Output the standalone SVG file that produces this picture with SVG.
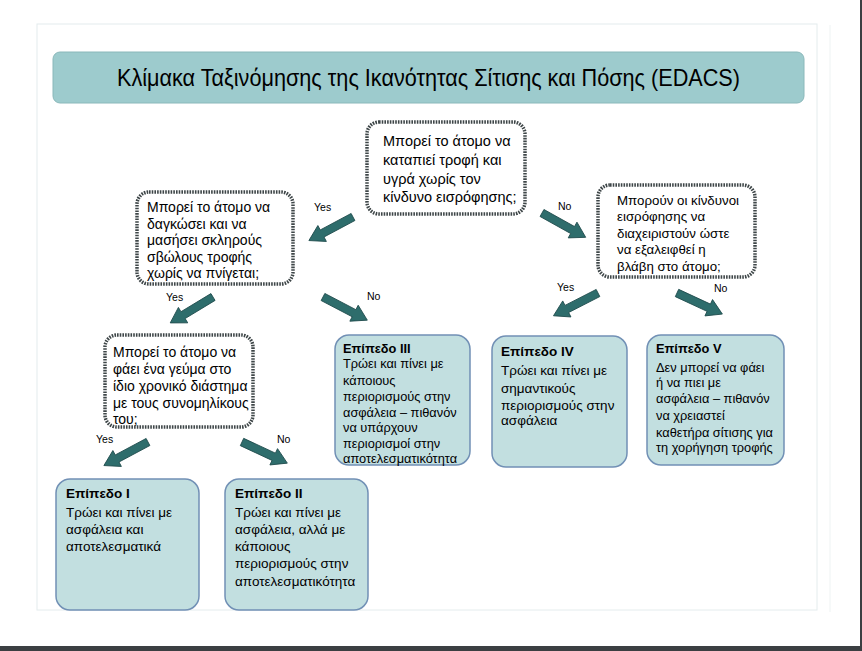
<svg xmlns="http://www.w3.org/2000/svg" xmlns:xlink="http://www.w3.org/1999/xlink" width="862" height="651" viewBox="0 0 862 651">
<defs>
<style>
.q{fill:#fff;stroke:#3e4648;stroke-width:3.5;stroke-dasharray:1.6 1.1}
.lvl{fill:#c2dfe0;stroke:#7190b5;stroke-width:1.5}
.t{font-family:"Liberation Sans",Arial,sans-serif;fill:#000}
.lbl{font-family:"Liberation Sans",Arial,sans-serif;font-size:10.5px;fill:#000}
.b{font-weight:bold}
.arr{fill:#2e6d6c;stroke:#1e4a4b;stroke-width:0.8}
</style>
<path id="arrow" class="arr" d="M0,-4 L35,-4 L35,-9 L50,0 L35,9 L35,4 L0,4 Z"/>
</defs>
<rect x="0" y="0" width="862" height="651" fill="#fff"/>
<rect x="37" y="24" width="780" height="586" fill="#fff" stroke="#e4eced" stroke-width="1"/>
<line x1="830" y1="25" x2="830" y2="612" stroke="#eef3f3" stroke-width="1"/>
<rect x="860" y="0" width="2" height="651" fill="#3b3f42"/>
<rect x="0" y="646" width="862" height="5" fill="#3b3f42"/>

<g id="title">
<rect x="53" y="52" width="751" height="51" rx="7" fill="#9dcbcd" stroke="#8ab8ba" stroke-width="1"/>
<text class="t" x="428.5" y="86" font-size="24" text-anchor="middle" textLength="623" lengthAdjust="spacingAndGlyphs">Κλίμακα Ταξινόμησης της Ικανότητας Σίτισης και Πόσης (EDACS)</text>
</g>

<g id="q1">
<rect class="q" x="367" y="122" width="158" height="92" rx="12"/>
<text class="t" font-size="14.5"><tspan x="383" y="146">Μπορεί το άτομο να</tspan><tspan x="383" y="165">καταπιεί τροφή και</tspan><tspan x="383" y="183.5">υγρά χωρίς τον</tspan><tspan x="383" y="202">κίνδυνο εισρόφησης;</tspan></text>
</g>

<g id="q2">
<rect class="q" x="137" y="192" width="156" height="92" rx="12"/>
<text class="t" font-size="14"><tspan x="147" y="212">Μπορεί το άτομο να</tspan><tspan x="147" y="228.5">δαγκώσει και να</tspan><tspan x="147" y="245">μασήσει σκληρούς</tspan><tspan x="147" y="261.5">σβώλους τροφής</tspan><tspan x="147" y="278">χωρίς να πνίγεται;</tspan></text>
</g>

<g id="q3">
<rect class="q" x="598" y="185" width="157" height="92" rx="12"/>
<text class="t" font-size="13.3"><tspan x="617" y="204.7">Μπορούν οι κίνδυνοι</tspan><tspan x="617" y="221.2">εισρόφησης να</tspan><tspan x="617" y="237.7">διαχειριστούν ώστε</tspan><tspan x="617" y="254.2">να εξαλειφθεί η</tspan><tspan x="617" y="270.7">βλάβη στο άτομο;</tspan></text>
</g>

<g id="q4">
<rect class="q" x="105" y="335" width="148" height="92" rx="12"/>
<text class="t" font-size="14"><tspan x="113" y="357">Μπορεί το άτομο να</tspan><tspan x="113" y="374">φάει ένα γεύμα στο</tspan><tspan x="113" y="391">ίδιο χρονικό διάστημα</tspan><tspan x="113" y="408">με τους συνομηλίκους</tspan><tspan x="113" y="424">του;</tspan></text>
</g>

<g id="level3">
<rect class="lvl" x="335" y="335" width="135" height="130" rx="14"/>
<text class="t" font-size="12.8"><tspan class="b" x="343" y="353">Επίπεδο III</tspan><tspan x="343" y="368">Τρώει και πίνει με</tspan><tspan x="343" y="384.5">κάποιους</tspan><tspan x="343" y="401">περιορισμούς στην</tspan><tspan x="343" y="416.5">ασφάλεια – πιθανόν</tspan><tspan x="343" y="431.5">να υπάρχουν</tspan><tspan x="343" y="447.5">περιορισμοί στην</tspan><tspan x="343" y="463">αποτελεσματικότητα</tspan></text>
</g>

<g id="level4">
<rect class="lvl" x="492" y="336" width="135" height="131" rx="14"/>
<text class="t" font-size="13.5"><tspan class="b" x="501" y="356">Επίπεδο IV</tspan><tspan x="501" y="375">Τρώει και πίνει με</tspan><tspan x="501" y="392.5">σημαντικούς</tspan><tspan x="501" y="409.5">περιορισμούς στην</tspan><tspan x="501" y="425">ασφάλεια</tspan></text>
</g>

<g id="level5">
<rect class="lvl" x="647" y="335" width="137" height="130" rx="14"/>
<text class="t" font-size="12.8"><tspan class="b" x="656" y="353">Επίπεδο V</tspan><tspan x="656" y="372">Δεν μπορεί να φάει</tspan><tspan x="656" y="387">ή να πιει με</tspan><tspan x="656" y="403">ασφάλεια – πιθανόν</tspan><tspan x="656" y="420">να χρειαστεί</tspan><tspan x="656" y="436.5">καθετήρα σίτισης για</tspan><tspan x="656" y="452">τη χορήγηση τροφής</tspan></text>
</g>

<g id="level1">
<rect class="lvl" x="56" y="479" width="143" height="131" rx="14"/>
<text class="t" font-size="13.5"><tspan class="b" x="66" y="498">Επίπεδο I</tspan><tspan x="66" y="517">Τρώει και πίνει με</tspan><tspan x="66" y="533.5">ασφάλεια και</tspan><tspan x="66" y="551">αποτελεσματικά</tspan></text>
</g>

<g id="level2">
<rect class="lvl" x="225" y="479" width="143" height="131" rx="14"/>
<text class="t" font-size="13.5"><tspan class="b" x="235" y="498">Επίπεδο II</tspan><tspan x="235" y="517">Τρώει και πίνει με</tspan><tspan x="235" y="533.5">ασφάλεια, αλλά με</tspan><tspan x="235" y="551">κάποιους</tspan><tspan x="235" y="568">περιορισμούς στην</tspan><tspan x="235" y="585.5">αποτελεσματικότητα</tspan></text>
</g>

<g id="connectors">
<use xlink:href="#arrow" href="#arrow" transform="translate(353,217) rotate(151.9)"/>
<use xlink:href="#arrow" href="#arrow" transform="translate(542,213) rotate(29.1)"/>
<use xlink:href="#arrow" href="#arrow" transform="translate(213,297) rotate(148.8)"/>
<use xlink:href="#arrow" href="#arrow" transform="translate(323,297) rotate(27.6)"/>
<use xlink:href="#arrow" href="#arrow" transform="translate(598,293) rotate(152.9)"/>
<use xlink:href="#arrow" href="#arrow" transform="translate(677,293) rotate(24.9)"/>
<use xlink:href="#arrow" href="#arrow" transform="translate(148,442) rotate(151.9)"/>
<use xlink:href="#arrow" href="#arrow" transform="translate(242,442) rotate(25)"/>
<text class="lbl" x="314" y="211">Yes</text>
<text class="lbl" x="558" y="210">No</text>
<text class="lbl" x="166" y="301">Yes</text>
<text class="lbl" x="367" y="300">No</text>
<text class="lbl" x="557" y="291">Yes</text>
<text class="lbl" x="714" y="292">No</text>
<text class="lbl" x="96" y="443">Yes</text>
<text class="lbl" x="277" y="443">No</text>
</g>
</svg>
